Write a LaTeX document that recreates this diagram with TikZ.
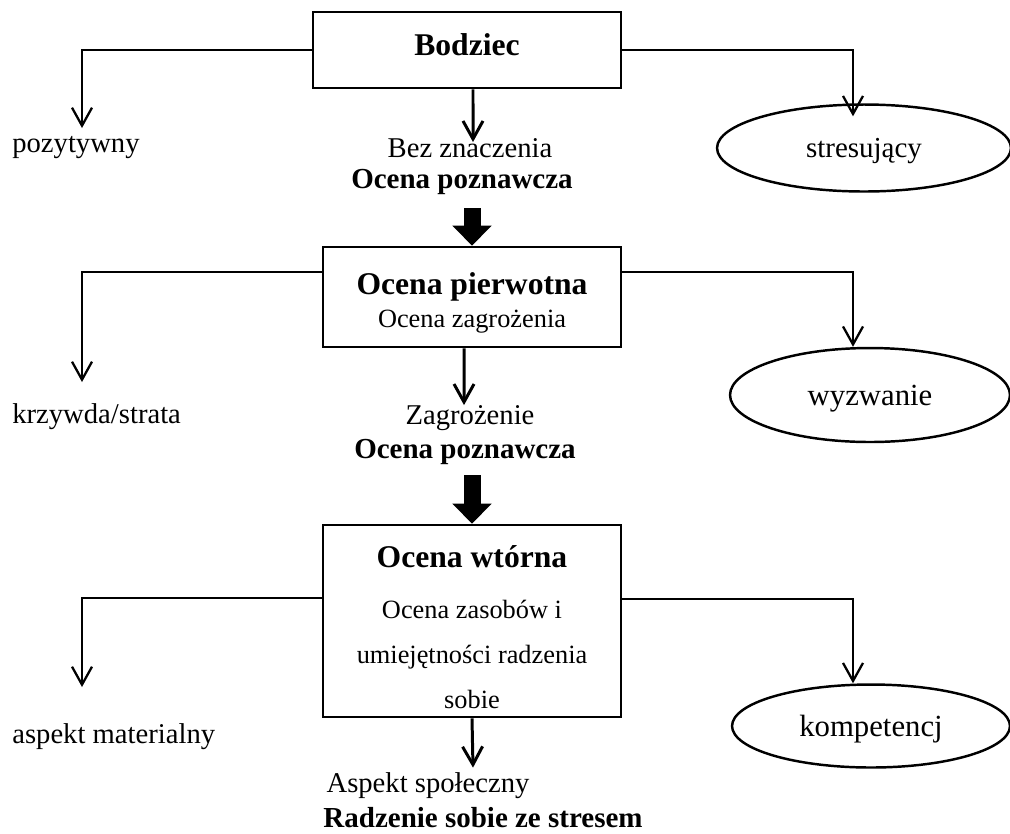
\documentclass[tikz,border=0pt]{standalone}
\usepackage{fontspec}
\setmainfont{Liberation Serif}
\usepackage{tikz}
\usetikzlibrary{arrows.meta,positioning,shapes.geometric}
\newcommand\fsTitle{\fontsize{18}{21}\selectfont\bfseries}
\newcommand\fsLab{\fontsize{16.3}{19}\selectfont}
\newcommand\fsBold{\fontsize{16.5}{19}\selectfont\bfseries}
\newcommand\fsSub{\fontsize{15}{18.8}\selectfont}
\newcommand\fsWide{\fontsize{15}{25.6}\selectfont}
\newcommand\fsOval{\fontsize{17.5}{20}\selectfont}
\newcommand\topgap{\rule{0pt}{19.4pt}}
\tikzset{
  stagebox/.style={rectangle,draw,line width=1.5pt,align=center,inner sep=0pt},
  oval/.style={ellipse,draw,line width=1.4pt,font=\fsOval,inner sep=0pt,text depth=0pt},
  lab/.style={font=\fsLab,inner sep=0pt},
  blab/.style={font=\fsBold,inner sep=0pt},
  arr/.style={line width=1.3pt,-{Straight Barb[length=0.36cm,width=0.4cm]}},
  arrc/.style={arr,line width=1.7pt},
  bigarr/.style={line width=0.34cm,-{Triangle[length=0.4cm,width=0.76cm]}}
}
\begin{document}
\begin{tikzpicture}[x=0.02cm,y=-0.02cm]
  \useasboundingbox (0,0) rectangle (1010,833);
  % level 1
  \node[stagebox,minimum width=6.16cm,minimum height=1.52cm,font=\fsTitle] (bodziec) at (467,50) {Bodziec\rule[-6pt]{0pt}{6pt}};
  \node[lab,anchor=west] (pozyt) at (12,148) {pozytywny};
  \node[lab] (bez) at (470,148) {Bez znaczenia};
  \node[oval,minimum width=5.88cm,minimum height=1.74cm,font=\fontsize{16.5}{19}\selectfont] (stres) at (864,148) {stresujący};
  \node[blab] (ocpoz1) at (462,182) {Ocena poznawcza};
  \coordinate (tipL1) at (82,128);
  \draw[arr] (bodziec.west) -| (tipL1);
  \draw[arr] (bodziec.east) -| ([xshift=-0.22cm,yshift=-0.26cm]stres.north);
  \draw[arrc] ([xshift=0.12cm]bodziec.south) -- ([xshift=0.06cm,yshift=-0.08cm]bez.north);
  % level 2
  \node[stagebox,minimum width=5.96cm,minimum height=2.0cm,font=\fsSub] (pierw) at (472,297)
    {{\fsTitle\topgap Ocena pierwotna}\\Ocena zagrożenia};
  \draw[bigarr,shorten <=0.26cm] (ocpoz1.south -| pierw.north) -- (pierw.north);
  \node[lab,anchor=west] (krzyw) at (12,417) {krzywda/strata};
  \node[lab] (zagr) at (470,418) {Zagrożenie};
  \node[oval,minimum width=5.6cm,minimum height=1.88cm] (wyzw) at (870,395) {wyzwanie};
  \node[blab] (ocpoz2) at (465,452) {Ocena poznawcza};
  \coordinate (tipL2) at (82,382);
  \draw[arr] (pierw.west |- 0,272) -| (tipL2);
  \draw[arr] (pierw.east |- 0,272) -| ([xshift=-0.34cm]wyzw.north);
  \draw[arrc] ([xshift=-0.16cm]pierw.south) -- ([xshift=-0.12cm]zagr.north);
  % level 3
  \node[stagebox,minimum width=5.96cm,minimum height=3.84cm,font=\fsWide] (wtorna) at (472,621)
    {{\fsTitle\topgap Ocena wtórna}\\[3.4pt]Ocena zasobów i\\umiejętności radzenia\\sobie};
  \draw[bigarr,shorten <=0.2cm] (ocpoz2.south -| wtorna.north) -- (wtorna.north);
  \node[lab,anchor=west] (mater) at (12,737) {aspekt materialny};
  \node[oval,minimum width=5.56cm,minimum height=1.66cm] (komp) at (871,726) {kompetencj};
  \node[lab] (spol) at (428,786) {Aspekt społeczny};
  \node[blab] (radz) at (483,818) {Radzenie sobie ze stresem};
  \coordinate (tipL3) at (82,687);
  \draw[arr] (wtorna.west |- 0,598) -| (tipL3);
  \draw[arr] (wtorna.east |- 0,599) -| ([xshift=-0.36cm]komp.north);
  \draw[arrc] (wtorna.south) -- ([xshift=0.9cm,yshift=0.1cm]spol.north);
\end{tikzpicture}
\end{document}
